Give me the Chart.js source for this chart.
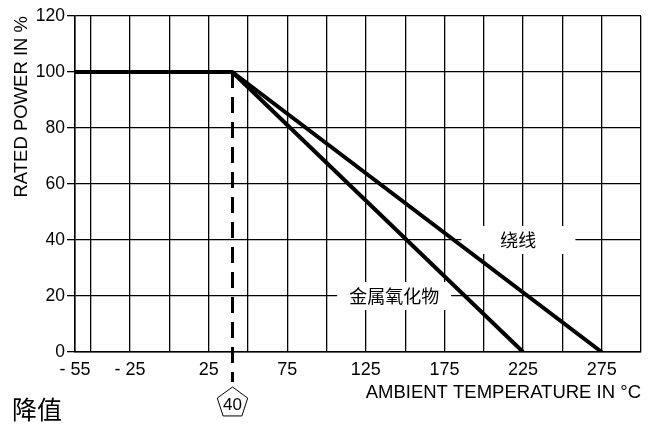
<!DOCTYPE html>
<html>
<head>
<meta charset="utf-8">
<script src="https://cdn.jsdelivr.net/npm/chart.js@4.4.1/dist/chart.umd.min.js"></script>
<style>
  html, body { margin: 0; padding: 0; background: #fff; }
  #wrap { width: 652px; height: 424px; }
</style>
</head>
<body>
<div id="wrap"><canvas id="chart1" width="652" height="424"></canvas></div>
<script>
// series
const wireTemp = [-60, 40, 275];
const wirePower = [100, 100, 0];
const oxideTemp = [40, 225];
const oxidePower = [100, 0];
const seriesNames = ['绕线', '金属氧化物'];

// axis ticks
const xTickValues = [-60, -50, -25, 0, 25, 50, 75, 100, 125, 150, 175, 200, 225, 250, 275, 300];
const xTickLabels = ['- 55', '', '- 25', '', '25', '', '75', '', '125', '', '175', '', '225', '', '275', ''];
const derateTemp = 40;

// where the series names sit (data coords)
const nameAt = [[222, 40], [143, 20]];

Chart.defaults.font.family = "'Liberation Sans', Arial, sans-serif";
Chart.defaults.color = '#000';

const cjk = "'Noto Sans CJK SC', sans-serif";

const extras = {
  id: 'extras',
  beforeDatasetsDraw(chart) {
    const { ctx, scales: { x, y } } = chart;
    ctx.save();
    // white boxes behind series names
    ctx.fillStyle = '#fff';
    nameAt.forEach(([vx, vy]) => {
      const px = x.getPixelForValue(vx), py = y.getPixelForValue(vy);
      ctx.fillRect(px - 57, py - 14, 114, 28);
    });
    ctx.fillStyle = '#000';
    ctx.font = '18px ' + cjk;
    ctx.textAlign = 'center';
    ctx.textBaseline = 'middle';
    nameAt.forEach(([vx, vy], i) => {
      ctx.fillText(seriesNames[i], x.getPixelForValue(vx), y.getPixelForValue(vy));
    });
    ctx.restore();
  },
  afterDraw(chart) {
    const { ctx, chartArea, scales: { x, y } } = chart;
    const px = Math.round(x.getPixelForValue(derateTemp)) + 0.5;
    ctx.save();
    // dashed marker line
    ctx.strokeStyle = '#000';
    ctx.lineWidth = 3;
    ctx.setLineDash([16, 9]);
    ctx.beginPath();
    ctx.moveTo(px, y.getPixelForValue(100));
    ctx.lineTo(px, chartArea.bottom + 30);
    ctx.stroke();
    ctx.setLineDash([]);
    // pentagon with value
    const cy = chartArea.bottom + 51, r = 16;
    ctx.lineWidth = 1;
    ctx.beginPath();
    for (let k = 0; k < 5; k++) {
      const a = -Math.PI / 2 + k * 2 * Math.PI / 5;
      const vx = px + r * Math.cos(a), vy = cy + r * Math.sin(a);
      k === 0 ? ctx.moveTo(vx, vy) : ctx.lineTo(vx, vy);
    }
    ctx.closePath();
    ctx.stroke();
    ctx.fillStyle = '#000';
    ctx.font = '17px "Liberation Sans", Arial';
    ctx.textAlign = 'center';
    ctx.textBaseline = 'middle';
    ctx.fillText(String(derateTemp), px, cy + 2);
    // caption
    ctx.font = '25px ' + cjk;
    ctx.textAlign = 'left';
    ctx.fillText('降值', 12, 409);
    ctx.restore();
  }
};

const ctx = document.getElementById('chart1');
new Chart(ctx, {
  type: 'scatter',
  data: {
    datasets: [{
      label: seriesNames[0],
      data: wireTemp.map((t, i) => ({ x: t, y: wirePower[i] })),
      showLine: true,
      borderColor: '#000',
      borderWidth: 4,
      pointRadius: 0
    }, {
      label: seriesNames[1],
      data: oxideTemp.map((t, i) => ({ x: t, y: oxidePower[i] })),
      showLine: true,
      borderColor: '#000',
      borderWidth: 4,
      pointRadius: 0
    }]
  },
  options: {
    responsive: false,
    animation: false,
    layout: { padding: { top: 16, right: 11, bottom: 20, left: 0 } },
    plugins: { legend: { display: false }, tooltip: { enabled: false } },
    scales: {
      x: {
        type: 'linear',
        min: -60,
        max: 300,
        afterBuildTicks: s => { s.ticks = xTickValues.map(v => ({ value: v })); },
        afterFit: s => { s.height = 52; },
        grid: { color: '#000', lineWidth: 1.3, drawTicks: false },
        border: { color: '#000', width: 1.5 },
        ticks: {
          autoSkip: false,
          maxRotation: 0,
          padding: 7,
          font: { size: 18 },
          callback: (v, i) => xTickLabels[i]
        },
        title: {
          display: true,
          text: 'AMBIENT TEMPERATURE IN °C',
          align: 'end',
          font: { size: 18.5 },
          padding: { top: 2, bottom: 0 }
        }
      },
      y: {
        min: 0,
        max: 120,
        afterFit: s => { s.width = 75; },
        grid: { color: '#000', lineWidth: 1.3, tickLength: 8 },
        border: { color: '#000', width: 1.5 },
        ticks: { stepSize: 20, padding: 2, font: { size: 17.5 } },
        title: {
          display: true,
          text: 'RATED POWER IN %',
          align: 'end',
          font: { size: 18.5 },
          padding: { top: 11, bottom: 0 }
        }
      }
    }
  },
  plugins: [extras]
});
</script>
</body>
</html>
